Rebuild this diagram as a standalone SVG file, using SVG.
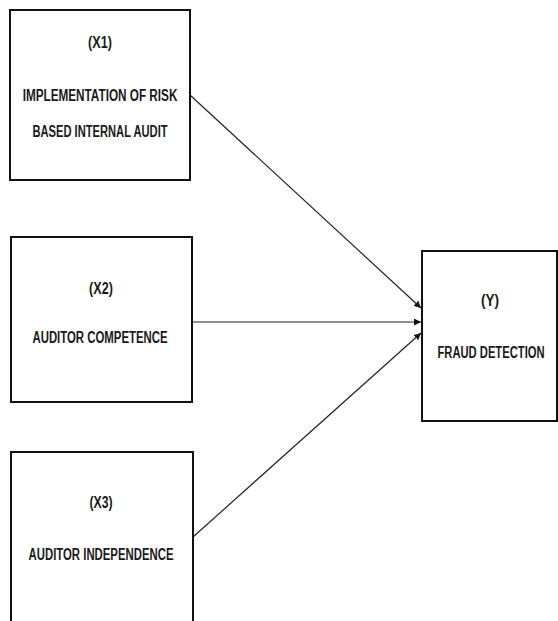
<svg xmlns="http://www.w3.org/2000/svg" width="558" height="621" viewBox="0 0 558 621">
<style>
.box{fill:#fff;stroke:#111;stroke-width:2}
.t{font-family:"Liberation Sans",Arial,sans-serif;font-weight:bold;font-size:17px;fill:#1a1a1a;text-anchor:middle}
.c{stroke:#222;stroke-width:1.2;fill:none}
</style>
<defs>
<marker id="ah" viewBox="0 0 10 10" refX="10" refY="5" markerWidth="7" markerHeight="7" orient="auto" markerUnits="userSpaceOnUse">
<path d="M0,0 L10,5 L0,10 z" fill="#111"/>
</marker>
</defs>
<rect width="558" height="621" fill="#fff"/>
<g id="connectors">
<line class="c" x1="190" y1="95" x2="421" y2="308" marker-end="url(#ah)"/>
<line class="c" x1="192" y1="322" x2="421" y2="322" marker-end="url(#ah)"/>
<line class="c" x1="193" y1="537" x2="421" y2="333" marker-end="url(#ah)"/>
</g>
<g id="x1">
<rect class="box" x="10" y="10" width="180" height="170"/>
<text class="t" transform="translate(100,48) scale(0.7,1)" textLength="34" lengthAdjust="spacingAndGlyphs">(X1)</text>
<text class="t" transform="translate(100,101) scale(0.7,1)" textLength="221" lengthAdjust="spacingAndGlyphs">IMPLEMENTATION OF RISK</text>
<text class="t" transform="translate(100,137) scale(0.7,1)" textLength="193" lengthAdjust="spacingAndGlyphs">BASED INTERNAL AUDIT</text>
</g>
<g id="x2">
<rect class="box" x="11" y="237" width="181" height="165"/>
<text class="t" transform="translate(101,294) scale(0.7,1)" textLength="34" lengthAdjust="spacingAndGlyphs">(X2)</text>
<text class="t" transform="translate(100,343) scale(0.7,1)" textLength="193" lengthAdjust="spacingAndGlyphs">AUDITOR COMPETENCE</text>
</g>
<g id="x3">
<rect class="box" x="11" y="452" width="182" height="180"/>
<text class="t" transform="translate(101,508) scale(0.7,1)" textLength="33" lengthAdjust="spacingAndGlyphs">(X3)</text>
<text class="t" transform="translate(101,560) scale(0.7,1)" textLength="207" lengthAdjust="spacingAndGlyphs">AUDITOR INDEPENDENCE</text>
</g>
<g id="y">
<rect class="box" x="422" y="251" width="135" height="170"/>
<text class="t" transform="translate(490,306) scale(0.7,1)" textLength="26" lengthAdjust="spacingAndGlyphs">(Y)</text>
<text class="t" transform="translate(491,358) scale(0.7,1)" textLength="153" lengthAdjust="spacingAndGlyphs">FRAUD DETECTION</text>
</g>
</svg>
